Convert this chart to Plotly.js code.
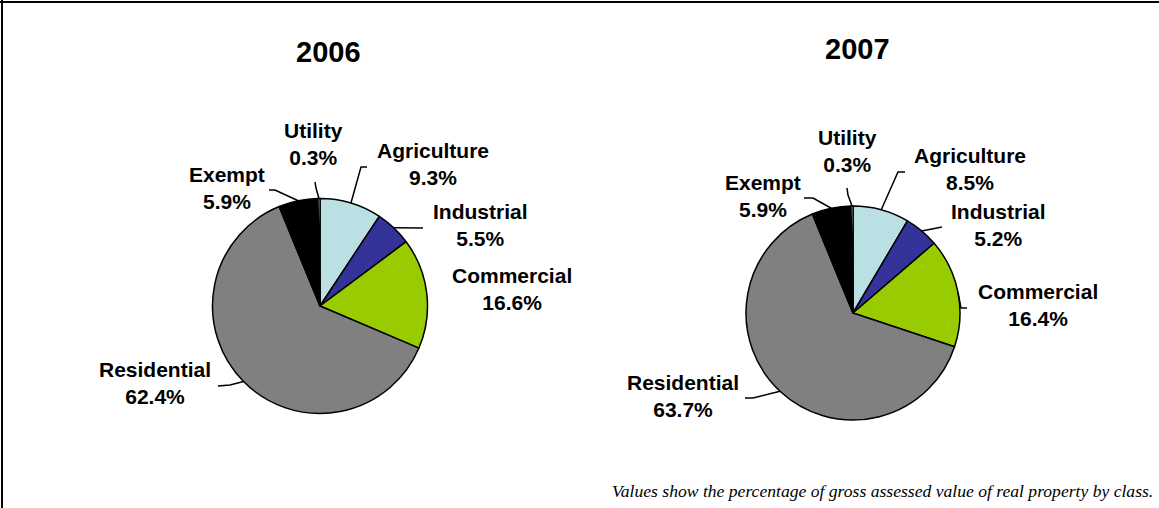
<!DOCTYPE html>
<html>
<head>
<meta charset="utf-8">
<script src="https://cdn.plot.ly/plotly-3.0.1.min.js"></script>
<style>html,body{margin:0;padding:0;background:#fff;}#chart{width:1159px;height:508px;}</style>
</head>
<body>
<div id="chart"></div>
<script>
// ---- data ----
const categories = ['Agriculture', 'Industrial', 'Commercial', 'Residential', 'Exempt', 'Utility'];
const values2006 = [9.3, 5.5, 16.6, 62.4, 5.9, 0.3];
const values2007 = [8.5, 5.2, 16.4, 63.7, 5.9, 0.3];
const years = ['2006', '2007'];
const caption = 'Values show the percentage of gross assessed value of real property by class.';

// ---- styling / layout positions (pixels) ----
const W = 1159, H = 508;
const sliceColors = ['#BBE0E3', '#333399', '#99CC00', '#808080', '#000000', '#FFFFFF'];
const pieGeom = [
  {cx: 320, cy: 306, r: 107.5, titleX: 328.5, titleY: 52},
  {cx: 853, cy: 313, r: 107, titleX: 857, titleY: 49}
];
const labelPos = [
  [[433,164],[480,225],[512,289],[155,383],[227,188],[313,144]],
  [[970,169],[998,225],[1038,305],[683,395.5],[763,196],[847,151]]
];
const leaderPts = [
  [[[361,167],[367,167]], [[423,228]], null, [[230,385],[218,386]], [[275,190],[269,190]], [[316,188],[315,182]]],
  [[[898,172],[905,172]], [[942,227]], [[961,308],[967,308]], [[753,398],[745,398]], [[813,198],[804,198]], [[848,195],[847,188]]]
];

const px = x => x / W;
const py = y => 1 - y / H;

const seriesList = [values2006, values2007];
const traces = [];
const annotations = [];
const shapes = [];

seriesList.forEach((vals, k) => {
  const g = pieGeom[k];
  traces.push({
    type: 'pie',
    labels: categories,
    values: vals,
    sort: false,
    direction: 'clockwise',
    rotation: 0,
    textinfo: 'none',
    hoverinfo: 'label+percent',
    marker: {colors: sliceColors, line: {color: '#000000', width: 1.5}},
    domain: {x: [px(g.cx - g.r), px(g.cx + g.r)], y: [py(g.cy + g.r), py(g.cy - g.r)]},
    showlegend: false
  });
  annotations.push({
    xref: 'paper', yref: 'paper', x: px(g.titleX), y: py(g.titleY),
    xanchor: 'center', yanchor: 'middle', showarrow: false,
    text: years[k],
    font: {family: 'Liberation Sans, Arial, sans-serif', size: 29, color: '#000', weight: 'bold'}
  });
  const total = vals.reduce((a, b) => a + b, 0);
  let cum = 0;
  vals.forEach((v, i) => {
    const mid = (cum + v / 2) / total * 2 * Math.PI;
    cum += v;
    const [lx, ly] = labelPos[k][i];
    annotations.push({
      xref: 'paper', yref: 'paper', x: px(lx), y: py(ly),
      xanchor: 'center', yanchor: 'middle', showarrow: false, align: 'center',
      text: categories[i] + '<br>' + v.toFixed(1) + '%',
      font: {family: 'Liberation Sans, Arial, sans-serif', size: 21, color: '#000', weight: 'bold'}
    });
    const pts = leaderPts[k][i];
    if (pts) {
      const sx = g.cx + g.r * Math.sin(mid);
      const sy = g.cy - g.r * Math.cos(mid);
      let path = 'M ' + px(sx) + ' ' + py(sy);
      pts.forEach(p => { path += ' L ' + px(p[0]) + ' ' + py(p[1]); });
      shapes.push({type: 'path', xref: 'paper', yref: 'paper', path: path,
        line: {color: '#000', width: 1.5}});
    }
  });
});

annotations.push({
  xref: 'paper', yref: 'paper', x: px(1155), y: py(491),
  xanchor: 'right', yanchor: 'middle', showarrow: false,
  text: caption,
  font: {family: 'Liberation Serif, Times New Roman, serif', size: 17.6, color: '#000', style: 'italic'}
});

// frame (top and left edges)
shapes.push({type: 'line', xref: 'paper', yref: 'paper', x0: 0, x1: 1, y0: py(2), y1: py(2), line: {color: '#000', width: 2}});
shapes.push({type: 'line', xref: 'paper', yref: 'paper', x0: px(2), x1: px(2), y0: 0, y1: 1, line: {color: '#000', width: 2}});

const layout = {
  width: W, height: H,
  margin: {l: 0, r: 0, t: 0, b: 0, pad: 0},
  paper_bgcolor: '#ffffff',
  plot_bgcolor: '#ffffff',
  showlegend: false,
  annotations: annotations,
  shapes: shapes
};

Plotly.newPlot('chart', traces, layout, {displayModeBar: false, staticPlot: true});
</script>
</body>
</html>
